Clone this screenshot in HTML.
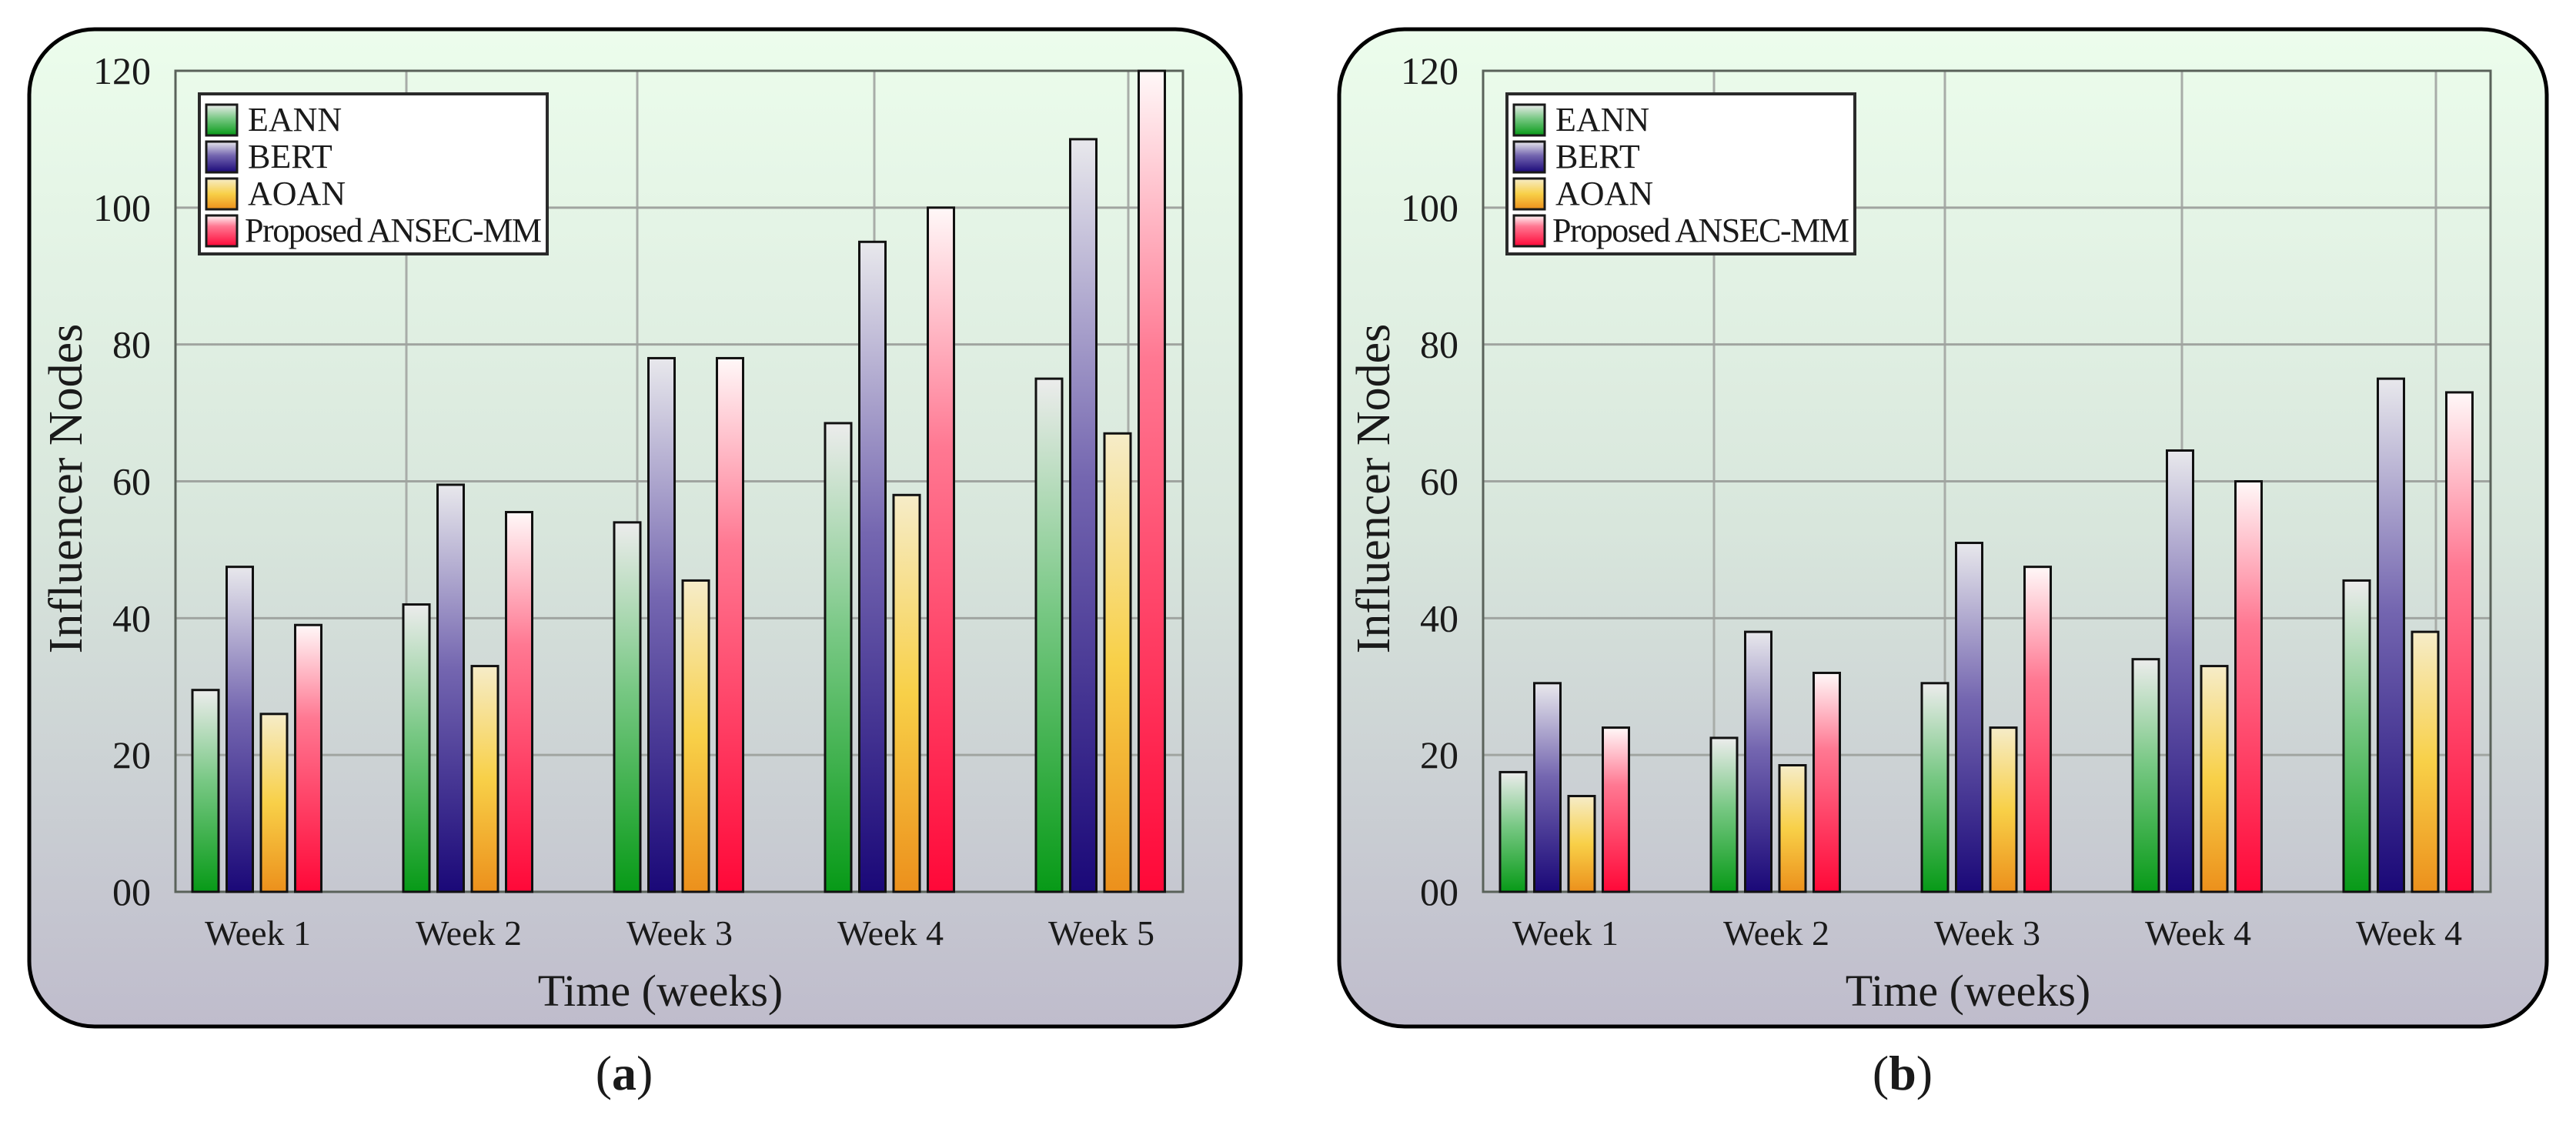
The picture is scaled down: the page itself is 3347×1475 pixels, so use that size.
<!DOCTYPE html>
<html><head><meta charset="utf-8">
<style>
html,body{margin:0;padding:0;background:#fff;}
svg{display:block;}
text{font-family:"Liberation Serif",serif;fill:#1a1a1a;}
</style></head>
<body>
<svg id="chart" width="3347" height="1475" viewBox="0 0 3347 1475" xmlns="http://www.w3.org/2000/svg">
<defs>
<linearGradient id="bgGrad" x1="0" y1="0" x2="0" y2="1">
<stop offset="0" stop-color="#ecfdec"/><stop offset="0.5" stop-color="#d8e6dc"/><stop offset="1" stop-color="#bfbccc"/></linearGradient>
<linearGradient id="gEANN" x1="0" y1="0" x2="0" y2="1"><stop offset="0" stop-color="#ececec"/><stop offset="0.45" stop-color="#78c884"/><stop offset="1" stop-color="#079a17"/></linearGradient>
<linearGradient id="gBERT" x1="0" y1="0" x2="0" y2="1"><stop offset="0" stop-color="#e8e8ec"/><stop offset="0.45" stop-color="#7466b0"/><stop offset="1" stop-color="#1a0878"/></linearGradient>
<linearGradient id="gAOAN" x1="0" y1="0" x2="0" y2="1"><stop offset="0" stop-color="#f6ecc8"/><stop offset="0.5" stop-color="#f8d048"/><stop offset="1" stop-color="#ec901c"/></linearGradient>
<linearGradient id="gPROP" x1="0" y1="0" x2="0" y2="1"><stop offset="0" stop-color="#fff8f8"/><stop offset="0.35" stop-color="#ff7892"/><stop offset="1" stop-color="#ff0838"/></linearGradient>
</defs>
</svg>
<script>
var categoriesA = ["Week 1","Week 2","Week 3","Week 4","Week 5"];
var categoriesB = ["Week 1","Week 2","Week 3","Week 4","Week 4"];
var seriesNames = ["EANN","BERT","AOAN","Proposed ANSEC-MM"];
var eannA = [29.5, 42, 54, 68.5, 75];
var bertA = [47.5, 59.5, 78, 95, 110];
var aoanA = [26, 33, 45.5, 58, 67];
var propA = [39, 55.5, 78, 100, 120];
var eannB = [17.5, 22.5, 30.5, 34, 45.5];
var bertB = [30.5, 38, 51, 64.5, 75];
var aoanB = [14, 18.5, 24, 33, 38];
var propB = [24, 32, 47.5, 60, 73];
var yTicks = [0, 20, 40, 60, 80, 100, 120];
var yTickLabels = ["00","20","40","60","80","100","120"];
var yMax = 120;

var NS = "http://www.w3.org/2000/svg";
var svg = document.getElementById("chart");
var fills = ["url(#gEANN)","url(#gBERT)","url(#gAOAN)","url(#gPROP)"];
var keys = ["eann","bert","aoan","proposed"];

function mk(tag, attrs, parent){
  var e = document.createElementNS(NS, tag);
  for (var k in attrs) e.setAttribute(k, attrs[k]);
  (parent||svg).appendChild(e);
  return e;
}

function panel(dx, pdx, pw, cats, series, tag, capX){
  var g = mk("g", {});
  
  
  var px0 = 228 + dx, px1 = 1537 + dx, py0 = 92, py1 = 1159;
  function yScale(v){ return py1 - v / yMax * (py1 - py0); }
  function xGroup(i){ return px0 + 22 + i * 274; }
  var bg = mk("rect", {x:38+pdx, y:38, width:pw, height:1296, rx:85, ry:85, fill:"url(#bgGrad)", stroke:"#000", "stroke-width":5}, g);
  
  
  var vOff = [300, 600, 908, 1238];
  for (var v = 0; v < vOff.length; v++){
    var vl = mk("line", {x1:px0+vOff[v], x2:px0+vOff[v], y1:py0, y2:py1, stroke:"#a8aca8", "stroke-width":3}, g);
    
    
  }
  for (var t = 0; t < yTicks.length; t++){
    var yy = yScale(yTicks[t]);
    var gl = mk("line", {x1:px0, x2:px1, y1:yy, y2:yy, stroke:"#a0a4a0", "stroke-width":3}, g);
    
    
    var tl = mk("text", {x:196+dx, y:yy+17, "text-anchor":"end", "font-size":50}, g);
    tl.textContent = yTickLabels[t];
    
    
  }
  var fr = mk("rect", {x:px0, y:py0, width:px1-px0, height:py1-py0, fill:"none", stroke:"#5a625a", "stroke-width":3}, g);
  
  
  for (var i = 0; i < cats.length; i++){
    for (var s = 0; s < 4; s++){
      var val = series[s][i];
      var x = xGroup(i) + s * 44.5;
      var b = mk("rect", {x:x, y:yScale(val), width:34, height:yScale(0)-yScale(val), fill:fills[s], stroke:"#111", "stroke-width":3}, g);
      
      
    }
    var xl = mk("text", {x:xGroup(i)+85, y:1228, "text-anchor":"middle", "font-size":46}, g);
    xl.textContent = cats[i];
    
    
  }
  var yt = mk("text", {x:0, y:0, "text-anchor":"middle", "font-size":62, transform:"translate("+(106+dx)+",635) rotate(-90)"}, g);
  yt.textContent = "Influencer Nodes";
  
  
  var xt = mk("text", {x:858+dx, y:1307, "text-anchor":"middle", "font-size":58}, g);
  xt.textContent = "Time (weeks)";
  
  
  var lg = mk("g", {}, g);
  
  
  var lb = mk("rect", {x:259+dx, y:122, width:452, height:208, fill:"#fff", stroke:"#2a2a2a", "stroke-width":4}, lg);
  
  
  for (var s2 = 0; s2 < 4; s2++){
    var ey = 136 + s2 * 48;
    var sw = mk("rect", {x:268+dx, y:ey, width:40, height:40, fill:fills[s2], stroke:"#1a1a1a", "stroke-width":3}, lg);
    
    
    var lt = mk("text", {x:(s2==3?318:322)+dx, y:ey+34, "font-size":44}, lg);
    lt.textContent = seriesNames[s2];
    if (s2 == 3) lt.setAttribute("textLength", "386");
    
    
  }
  var cap = mk("text", {x:capX, y:1416, "text-anchor":"middle", "font-size":64}, g);
  cap.innerHTML = '(<tspan font-weight="bold">' + tag + '</tspan>)';
  
  
}
panel(0, 0, 1574, categoriesA, [eannA, bertA, aoanA, propA], "a", 811);
panel(1699, 1702, 1569, categoriesB, [eannB, bertB, aoanB, propB], "b", 2472);
</script>
</body></html>
